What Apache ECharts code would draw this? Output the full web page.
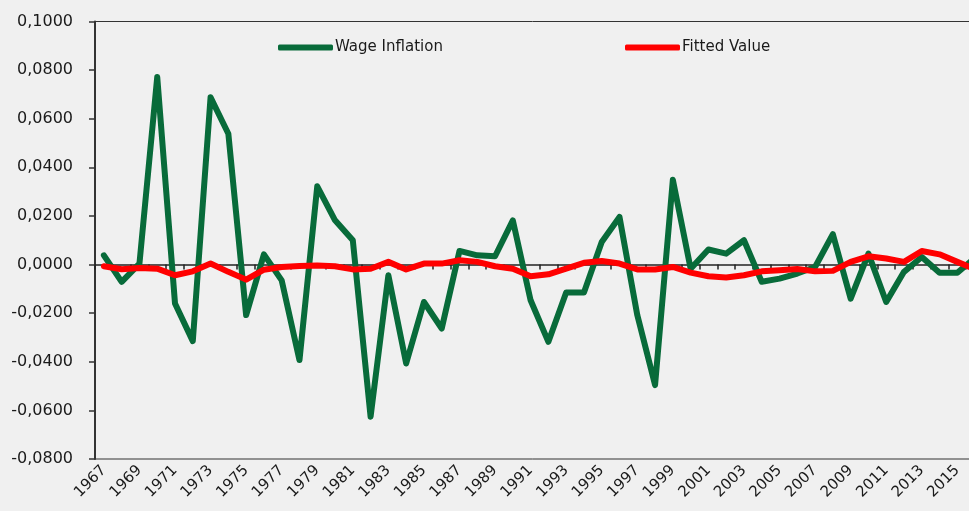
<!DOCTYPE html>
<html>
<head>
<meta charset="utf-8">
<script src="https://cdn.jsdelivr.net/npm/echarts@6/dist/echarts.min.js"></script>
<style>
html,body{margin:0;padding:0;background:#f0f0f0;}
#chart{width:969px;height:511px;}
</style>
</head>
<body>
<div id="chart"></div>
<script>
var years = [];
for (var y = 1967; y <= 2016; y++) years.push(String(y));

var wageInflation = [
  0.0038, -0.0071, 0.0004, 0.0772, -0.0160, -0.0315, 0.0688, 0.0538, -0.0208, 0.0042,
  -0.0065, -0.0393, 0.0322, 0.0182, 0.0100, -0.0626, -0.0044, -0.0407, -0.0154, -0.0263,
  0.0056, 0.0038, 0.0034, 0.0182, -0.0147, -0.0318, -0.0115, -0.0115, 0.0093, 0.0196,
  -0.0208, -0.0496, 0.0349, -0.0017, 0.0062, 0.0045, 0.0100, -0.0071, -0.0058, -0.0037,
  -0.0010, 0.0125, -0.0140, 0.0045, -0.0154, -0.0030, 0.0031, -0.0034, -0.0034, 0.0028
];

var fittedValue = [
  -0.0007, -0.0019, -0.0014, -0.0017, -0.0044, -0.0028, 0.0004, -0.0030, -0.0062, -0.0021,
  -0.0010, -0.0006, -0.0004, -0.0007, -0.0020, -0.0017, 0.0011, -0.0020, 0.0004, 0.0004,
  0.0018, 0.0011, -0.0007, -0.0017, -0.0048, -0.0040, -0.0017, 0.0007, 0.0015, 0.0004,
  -0.0020, -0.0020, -0.0010, -0.0033, -0.0048, -0.0053, -0.0044, -0.0028, -0.0023, -0.0018,
  -0.0028, -0.0026, 0.0011, 0.0034, 0.0025, 0.0011, 0.0056, 0.0042, 0.0011, -0.0020
];

var seriesNames = ['Wage Inflation', 'Fitted Value'];
var seriesColors = ['#086b3a', '#ff0000'];

var FONT = 'DejaVu Sans';
var chart = echarts.init(document.getElementById('chart'), null, {renderer: 'canvas'});
chart.setOption({
  backgroundColor: '#f0f0f0',
  animation: false,
  textStyle: {fontFamily: FONT},
  legend: [
    {
      data: [seriesNames[0]], left: 273, top: 35, padding: 5,
      icon: 'roundRect', itemWidth: 55, itemHeight: 6, itemGap: 3,
      textStyle: {fontSize: 15, color: '#1a1a1a', fontFamily: FONT, padding: [0,0,0,-3]}
    },
    {
      data: [seriesNames[1]], left: 620, top: 35, padding: 5,
      icon: 'roundRect', itemWidth: 55, itemHeight: 6, itemGap: 3,
      textStyle: {fontSize: 15, color: '#1a1a1a', fontFamily: FONT, padding: [0,0,0,-3]}
    }
  ],
  grid: {
    left: 95, top: 21.5, width: 889, bottom: 52,
    show: true, borderColor: '#333', borderWidth: 1, backgroundColor: 'transparent',
    containLabel: false, outerBoundsMode: 'none'
  },
  xAxis: [
    {
      type: 'category', data: years, position: 'bottom', boundaryGap: true,
      axisLine: {show: false, onZero: false},
      axisTick: {show: false},
      axisLabel: {rotate: 45, interval: 1, margin: 9, fontSize: 15, color: '#1a1a1a', fontFamily: FONT},
      splitLine: {show: false}
    },
    {
      type: 'category', data: years, position: 'top', boundaryGap: true,
      axisLine: {show: true, onZero: true, lineStyle: {color: '#222', width: 1.5}},
      axisTick: {show: true, inside: true, length: 5, interval: 0, lineStyle: {color: '#222', width: 1.5}},
      axisLabel: {show: false},
      splitLine: {show: false}
    }
  ],
  yAxis: {
    type: 'value', min: -0.08, max: 0.1, interval: 0.02,
    axisLine: {show: true, lineStyle: {color: '#333', width: 2}},
    axisTick: {show: true, length: 6, lineStyle: {color: '#333', width: 1.5}},
    splitLine: {show: false},
    axisLabel: {
      margin: 22, fontSize: 16, color: '#1a1a1a', fontFamily: FONT,
      formatter: function (v) { return v.toFixed(4).replace('.', ','); }
    }
  },
  series: [
    {
      name: seriesNames[0], type: 'line', data: wageInflation, xAxisIndex: 0,
      symbol: 'none', color: seriesColors[0],
      lineStyle: {width: 6, color: seriesColors[0], join: 'round', cap: 'round'}
    },
    {
      name: seriesNames[1], type: 'line', data: fittedValue, xAxisIndex: 0,
      symbol: 'none', color: seriesColors[1],
      lineStyle: {width: 6, color: seriesColors[1], join: 'round', cap: 'round'}
    }
  ]
});
</script>
</body>
</html>
